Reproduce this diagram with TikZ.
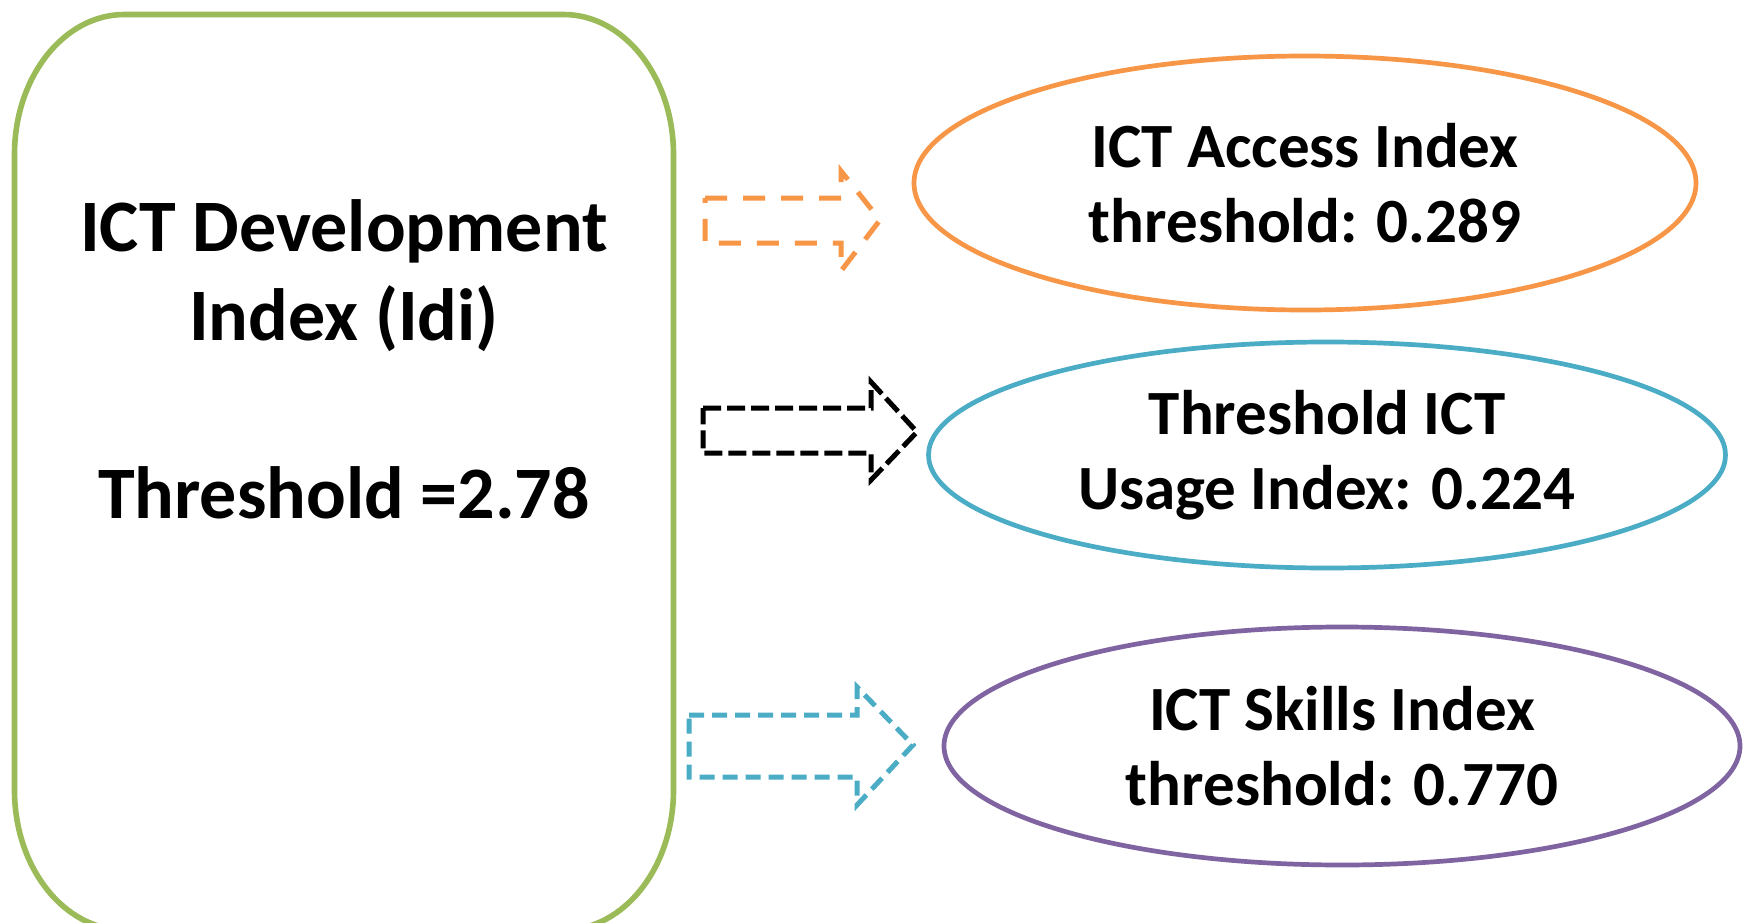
\documentclass[tikz,border=0pt]{standalone}
\usepackage{fontspec}
\setmainfont{Carlito}
\usetikzlibrary{shapes.geometric}
\definecolor{cgreen}{HTML}{9BBB59}
\definecolor{corange}{HTML}{F79646}
\definecolor{cblue}{HTML}{4BACC6}
\definecolor{cpurple}{HTML}{8064A2}
\tikzset{
  ell/.style={ellipse, draw, line width=4.7pt, inner sep=0pt, align=center,
    font=\bfseries\fontsize{63}{75}\selectfont},
  blockarrow/.style={line width=5pt, line join=miter},
}
\begin{document}
\begin{tikzpicture}[x=1pt,y=-1pt]
\useasboundingbox[fill=white] (0,0) rectangle (1748,923);
% left box
\draw[cgreen, line width=5.6pt]
  (14.5,154.5) .. controls (14.5,77.2) and (63.75,14.5) .. (124.5,14.5)
  -- (563.5,14.5) .. controls (624.25,14.5) and (673.5,77.2) .. (673.5,154.5)
  -- (673.5,790) .. controls (673.5,867.3) and (624.25,930) .. (563.5,930)
  -- (124.5,930) .. controls (63.75,930) and (14.5,867.3) .. (14.5,790) -- cycle;
\node[align=center, font=\bfseries\fontsize{74}{89}\selectfont] (idi) at (344,359)
  {ICT Development\\Index (Idi)\\[89pt]Threshold =2.78};
% ellipses
\node[ell, draw=corange, minimum width=782pt, minimum height=254pt] (acc) at (1305,183)
  {ICT Access Index\\threshold: 0.289};
\node[ell, draw=cblue, minimum width=797pt, minimum height=226pt] (use) at (1327,455)
  {Threshold ICT\\Usage Index: 0.224};
\node[ell, draw=cpurple, minimum width=796pt, minimum height=238pt] (skl) at (1342,746)
  {ICT Skills Index\\threshold: 0.770};
% block arrows
\draw[blockarrow, corange, dash pattern=on 22pt off 16pt]
  (705,198) -- (841,198) -- (841,171) -- (880,220) -- (841,271) -- (841,243) -- (705,243) -- cycle;
\draw[blockarrow, black, dash pattern=on 18pt off 6pt]
  (703,408) -- (871,408) -- (871,382) -- (917,432) -- (871,480) -- (871,453) -- (703,453) -- cycle;
\draw[blockarrow, cblue, dash pattern=on 15pt off 8pt]
  (689,715) -- (857,715) -- (857,687) -- (913,745) -- (857,805) -- (857,777) -- (689,777) -- cycle;
\end{tikzpicture}
\end{document}
